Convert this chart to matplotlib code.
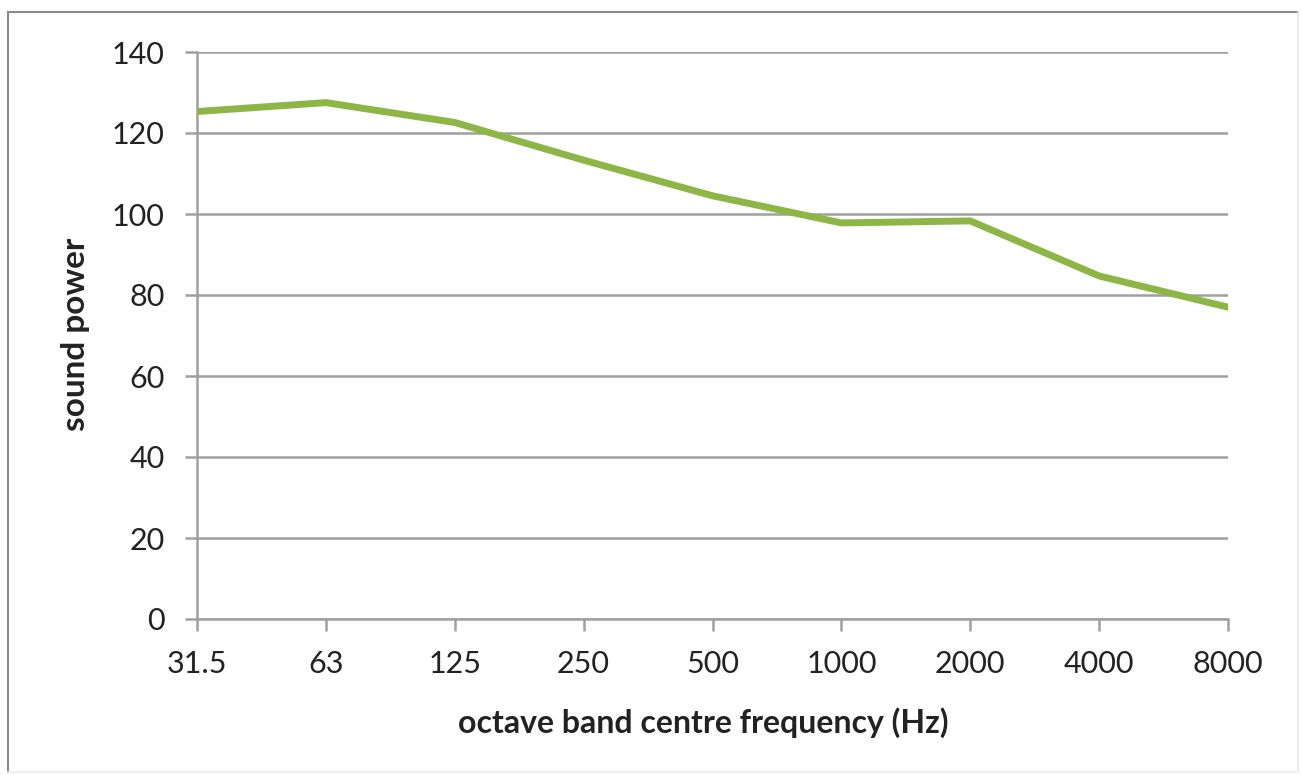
import matplotlib
matplotlib.use("Agg")
import matplotlib.pyplot as plt
from matplotlib.lines import Line2D

categories = ["31.5", "63", "125", "250", "500", "1000", "2000", "4000", "8000"]
sound_power = [125.3, 127.5, 122.6, 113.3, 104.5, 97.8, 98.3, 84.7, 77.0]
y_ticks = [0, 20, 40, 60, 80, 100, 120, 140]

plt.rcParams['font.family'] = ['Lato', 'DejaVu Sans']

W, H = 1302, 775
fig = plt.figure(figsize=(W / 100, H / 100), dpi=100)
ax = fig.add_axes([197 / W, (H - 619) / H, (1228 - 197) / W, (619 - 52) / H])

x = list(range(len(categories)))
ax.plot(x, sound_power, color="#8DB646", linewidth=5.0, solid_joinstyle="miter", zorder=3)

ax.set_xlim(0, len(categories) - 1)
ax.set_ylim(0, 140)
ax.set_xticks(x)
ax.set_xticklabels(categories)
ax.set_yticks(y_ticks)
ax.grid(axis="y", color="#A0A0A0", linewidth=1.8)
ax.set_axisbelow(True)

for s in ["top", "right"]:
    ax.spines[s].set_visible(False)
for s in ["left", "bottom"]:
    ax.spines[s].set_color("#A0A0A0")
    ax.spines[s].set_linewidth(1.8)

ax.tick_params(axis="both", colors="#A0A0A0", width=1.8, length=8.3, labelcolor="#222222",
               labelsize=22)
ax.tick_params(axis="x", pad=14)
ax.tick_params(axis="y", pad=15)

ax.set_xlabel("octave band centre frequency (Hz)", fontsize=23, fontweight="bold",
              color="#222222")
ax.set_ylabel("sound power", fontsize=24, fontweight="bold", color="#222222")
ax.xaxis.set_label_coords(0.491, -(723 - 619) / 567)
ax.xaxis.label.set_verticalalignment("center")
ax.yaxis.set_label_coords((76 - 197) / 1031, (619 - 334) / 567)
ax.yaxis.label.set_verticalalignment("center")

# outer frame
fig.add_artist(Line2D([8 / W, 1298 / W], [1 - 12 / H, 1 - 12 / H], transform=fig.transFigure,
                      color="#8A8A8A", linewidth=1.5))
fig.add_artist(Line2D([8 / W, 8 / W], [1 - 12 / H, 1 - 772 / H], transform=fig.transFigure,
                      color="#8A8A8A", linewidth=1.5))
fig.add_artist(Line2D([1298 / W, 1298 / W], [1 - 12 / H, 1 - 772 / H], transform=fig.transFigure,
                      color="#E6E6E6", linewidth=1.2))
fig.add_artist(Line2D([8 / W, 1298 / W], [1 - 772 / H, 1 - 772 / H], transform=fig.transFigure,
                      color="#EEEEEE", linewidth=1.2))

fig.savefig("out.png", dpi=100)
